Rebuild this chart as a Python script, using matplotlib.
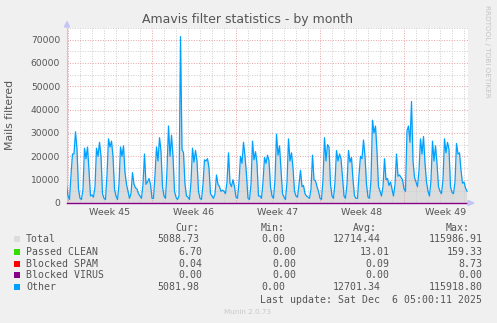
import numpy as np
import matplotlib
matplotlib.use('Agg')
import matplotlib.pyplot as plt
from matplotlib.patches import Rectangle, Polygon

W, H = 497, 323

# mails per 3 hours slot (in thousands), first slot = Sun 2 Nov 21:00
other_k = [7.5,
    # week 45
    3, 1.5, 12, 21, 21, 30.5, 23, 6,
    2, 1.5, 6, 23.5, 19, 24, 14, 3,
    3.5, 2.5, 7, 23.5, 20, 26, 20, 4,
    2, 1.5, 12, 27.5, 24, 26.5, 20, 6,
    3, 1.5, 8, 24, 20, 24.5, 13, 8,
    5, 2, 4, 13, 8, 6.5, 6, 4,
    3, 2, 8, 21, 8, 9, 10.5, 8,
    # week 46
    2, 2, 12, 24, 18, 28, 22, 7,
    3, 2, 14, 33, 20, 29, 20, 5,
    2.5, 1.5, 3, 71.3, 23, 21.5, 8, 3,
    2.5, 1.5, 9, 23.5, 17.5, 22.5, 18, 5,
    2, 1.5, 8, 18.5, 18, 19, 15, 4,
    3, 2, 4, 12, 8, 7, 5, 5.5,
    5, 4, 9, 21.5, 8.5, 7, 10, 7,
    # week 47
    2.5, 2, 9, 20, 17, 26, 20, 12,
    2, 1.5, 8, 26.5, 18.5, 22, 17, 3,
    3, 2, 9, 19.5, 17, 20.5, 18, 7,
    3, 2, 10, 29.5, 20.5, 24.5, 14, 4,
    2.5, 1.5, 9, 27.5, 18, 21.5, 15, 5,
    3, 2.5, 8, 14, 7, 7.5, 4, 3,
    2.5, 2, 6, 20.5, 10, 9.5, 7, 5,
    # week 48
    2, 1.5, 10, 28, 18, 25, 24, 8,
    3, 2, 9, 22.5, 18, 21, 19, 11,
    3, 2, 8, 22.5, 17.5, 19.5, 10, 3,
    2, 2, 12, 20, 19, 27, 20, 8,
    2.5, 2, 10, 35.5, 30, 33, 22, 7,
    5, 3, 7, 19, 10, 10.5, 7.5, 9,
    6, 3, 8, 21, 11.5, 12, 11, 10,
    # week 49
    6, 5, 31, 33, 26, 43.5, 18, 11,
    9, 7, 14, 27.5, 21, 28.5, 17, 9,
    5, 3, 10, 26.5, 18, 24.5, 17, 7,
    5, 4, 10, 27.5, 21.5, 26, 23, 7,
    4.5, 4, 9, 25.5, 21, 21.5, 14, 8.5,
    9, 6.5, 5.1]

weeks = ['Week 45', 'Week 46', 'Week 47', 'Week 48', 'Week 49']

series = ['Total', 'Passed CLEAN', 'Blocked SPAM', 'Blocked VIRUS', 'Other']
series_colors = ['#dcdcdc', '#33dd00', '#ff0000', '#880088', '#00a0ff']
cur_vals = [5088.73, 6.70, 0.04, 0.00, 5081.98]
min_vals = [0.00, 0.00, 0.00, 0.00, 0.00]
avg_vals = [12714.44, 13.01, 0.09, 0.00, 12701.34]
max_vals = [115986.91, 159.33, 8.73, 0.00, 115918.80]
last_update = 'Last update: Sat Dec  6 05:00:11 2025'

other = np.array(other_k) * 1000
t = np.arange(len(other)) * 3 / 24 - 0.125   # days since Mon 3 Nov 00:00
total = other + avg_vals[1] + avg_vals[2]
virus = np.zeros(len(other))


def fx(x):
    return x / W


def fy(y):
    return 1 - y / H


txt = '#555555'
fig = plt.figure(figsize=(W / 100, H / 100), dpi=100)
fig.patch.set_facecolor('#f0f0f0')
ax = fig.add_axes([fx(67), fy(203), (468 - 67) / W, (203 - 28) / H])
ax.set_facecolor('white')

ax.fill_between(t, 0, total, color=series_colors[0], lw=0, zorder=1)

# grid
for d in range(0, 34):
    c = '#e8a0a0' if d % 7 == 0 else '#cccccc'
    ax.axvline(d, color=c, lw=0.7, ls=(0, (1, 1.6)), zorder=2)
for v in range(5000, 75001, 5000):
    c = '#e8a0a0' if v % 10000 == 0 else '#cccccc'
    ax.axhline(v, color=c, lw=0.7, ls=(0, (1, 1.6)), zorder=2)

ax.plot(t, other, color=series_colors[4], lw=0.9, zorder=3)
ax.plot(t, virus, color=series_colors[3], lw=1.0, zorder=4, clip_on=False)

ax.set_xlim(-1 / 12, 400 / 12)
ax.set_ylim(0, 75000)
for s in ['top', 'right', 'bottom']:
    ax.spines[s].set_visible(False)
ax.spines['left'].set_color('#c4c4f4')
ax.spines['left'].set_linewidth(0.8)

ax.set_yticks(range(0, 70001, 10000))
ax.set_yticklabels([str(v) for v in range(0, 70001, 10000)])
ax.set_xticks([3.5 + 7 * i for i in range(len(weeks))])
ax.set_xticklabels(weeks)
ax.tick_params(axis='y', length=0, pad=5, labelsize=6.6, labelcolor=txt)
ax.tick_params(axis='x', length=0, pad=3.5, labelsize=6.8, labelcolor=txt)

# axis arrows
fig.add_artist(Polygon([(fx(64.5), fy(27)), (fx(69.5), fy(27)), (fx(67), fy(21.5))],
                       closed=True, transform=fig.transFigure, color='#c4c4f4'))
fig.add_artist(Polygon([(fx(468), fy(200.5)), (fx(468), fy(205.5)), (fx(474), fy(203))],
                       closed=True, transform=fig.transFigure, color='#c4c4f4'))

fig.text(fx(248), fy(19), 'Amavis filter statistics - by month', ha='center', va='center',
         fontsize=9, color=txt)
fig.text(fx(10.5), fy(115), 'Mails filtered', rotation=90, ha='center', va='center',
         fontsize=7.8, color=txt)
fig.text(fx(487), fy(5), 'RRDTOOL / TOBI OETIKER', rotation=-90, ha='center', va='top',
         fontsize=5.2, color='#c4c4c4')

# legend
mono = dict(family='DejaVu Sans Mono', fontsize=7.1, color=txt, va='center')
for name, xe in zip(['Cur:', 'Min:', 'Avg:', 'Max:'], [199.5, 285, 376.7, 470]):
    fig.text(fx(xe), fy(227.7), name, ha='right', **mono)
rows_y = [239.3, 251.7, 263.7, 275.3, 287.3]
for i, name in enumerate(series):
    y = rows_y[i]
    fig.add_artist(Rectangle((fx(14), fy(y + 3)), 6 / W, 6 / H, transform=fig.transFigure,
                             color=series_colors[i], lw=0))
    fig.text(fx(26), fy(y), name, ha='left', **mono)
    ends = [199.5, 285, 380.7, 482.3] if i in (0, 4) else [202.3, 296.7, 389.3, 482.3]
    for xe, v in zip(ends, [cur_vals[i], min_vals[i], avg_vals[i], max_vals[i]]):
        fig.text(fx(xe), fy(y), f'{v:.2f}', ha='right', **mono)
fig.text(fx(482.3), fy(299.7), last_update, ha='right', **mono)
fig.text(fx(248), fy(311.7), 'Munin 2.0.73', ha='center', va='center', fontsize=5.2,
         color='#c8c8c8')

fig.savefig('out.png', dpi=100, facecolor=fig.get_facecolor())
